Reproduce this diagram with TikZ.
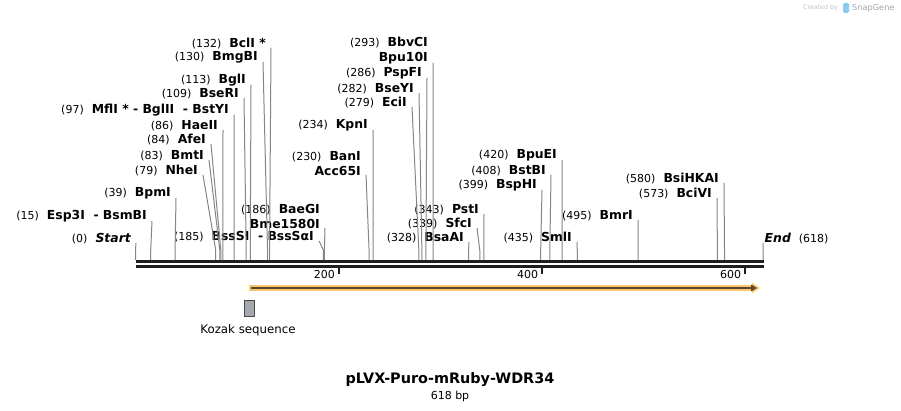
\documentclass[tikz,border=0pt]{standalone}
\usepackage{fontspec}
\setmainfont{DejaVu Sans}
\usetikzlibrary{arrows.meta}

\definecolor{cutgray}{HTML}{858585}
\definecolor{axisblack}{HTML}{1E1E1E}
\definecolor{featorange}{HTML}{F9C770}
\definecolor{featdark}{HTML}{56472E}
\definecolor{kozakgray}{HTML}{A4A9B0}
\definecolor{kozakedge}{HTML}{4A4A4A}
\definecolor{logogray}{HTML}{BDC1C6}
\definecolor{logoblue}{HTML}{8CCBF0}

\newcommand{\ename}[1]{{\fontsize{12.4}{15}\selectfont\bfseries #1}}
\newcommand{\enz}[2]{(#1)\hspace{8pt}\ename{#2}}

\tikzstyle{enzyme} = [anchor=south east,
inner xsep=5pt,
inner ysep=-1.2pt,
align=right,
font=\fontsize{11}{15}\selectfont]
\tikzstyle{cut} = [draw=cutgray, line width=1pt]
\tikzstyle{ticklbl} = [anchor=east,
inner sep=1pt,
font=\fontsize{11}{13}\selectfont]

\begin{document}
\begin{tikzpicture}[x=1pt, y=-1pt]
\useasboundingbox (0,0) rectangle (901,411);

\foreach \p in {0,15,39,79,83,84,86,97,109,113,130,132,185,186,230,234,279,282,286,293,328,339,343,399,408,420,435,495,573,580,618}
  \coordinate (s\p) at ({135.5+1.0155*\p},250);

% sequence line
\draw [axisblack, line width=3.5pt] (135.5,261.7) -- (763.5,261.7);
\draw [axisblack, line width=2.7pt] (135.5,266.4) -- (763.5,266.4);
\foreach \t in {200,400,600} {
  \draw [axisblack, line width=1.8pt] ({135.5+1.0155*\t},267.5) -- ++(0,6.5);
  \node (t\t) [ticklbl] at ({135.5+1.0155*\t-2.5},274) {\t};
}

\node (start) [enzyme] at (136,243) {\enz{0}{\itshape Start}};
\node (esp) [enzyme] at (152,221) {\enz{15}{Esp3I\ \ - BsmBI}};
\node (bpm) [enzyme] at (176,198) {\enz{39}{BpmI}};
\node (nhe) [enzyme] at (203,175) {\enz{79}{NheI}};
\node (bmt) [enzyme] at (209,160) {\enz{83}{BmtI}};
\node (afe) [enzyme] at (211,144) {\enz{84}{AfeI}};
\node (hae) [enzyme] at (223,130) {\enz{86}{HaeII}};
\node (mfl) [enzyme] at (234,115) {\enz{97}{MflI *\ - BglII\ \ - BstYI}};
\node (bser) [enzyme] at (244,98) {\enz{109}{BseRI}};
\node (bgl) [enzyme] at (251,85) {\enz{113}{BglI}};
\node (bmg) [enzyme] at (263,62) {\enz{130}{BmgBI}};
\node (bcl) [enzyme] at (271,48) {\enz{132}{BclI *}};
\node (bss) [enzyme] at (319,241) {\enz{185}{BssSI\ \ - BssSαI}};
\node (bae) [enzyme] at (325,228) {\enz{186}{BaeGI}\\\ename{Bme1580I}};
\node (ban) [enzyme] at (366,175) {\enz{230}{BanI}\\\ename{Acc65I}};
\node (kpn) [enzyme] at (373,130) {\enz{234}{KpnI}};
\node (eci) [enzyme] at (412,107) {\enz{279}{EciI}};
\node (bsey) [enzyme] at (419,93) {\enz{282}{BseYI}};
\node (psp) [enzyme] at (427,78) {\enz{286}{PspFI}};
\node (bbv) [enzyme] at (433,63) {\enz{293}{BbvCI}\\\ename{Bpu10I}};
\node (bsaa) [enzyme] at (469,242) {\enz{328}{BsaAI}};
\node (sfc) [enzyme] at (477,228) {\enz{339}{SfcI}};
\node (pst) [enzyme] at (484,214) {\enz{343}{PstI}};
\node (bsph) [enzyme] at (542,190) {\enz{399}{BspHI}};
\node (bstb) [enzyme] at (551,175) {\enz{408}{BstBI}};
\node (bpue) [enzyme] at (562,160) {\enz{420}{BpuEI}};
\node (sml) [enzyme] at (577,242) {\enz{435}{SmlI}};
\node (bmr) [enzyme] at (638,220) {\enz{495}{BmrI}};
\node (bciv) [enzyme] at (717,198) {\enz{573}{BciVI}};
\node (bsih) [enzyme] at (724,183) {\enz{580}{BsiHKAI}};
\node (fin) [enzyme, anchor=south west, inner xsep=1.5pt] at (763,243) {\ename{\itshape End}\hspace{8pt}(618)};

\draw [cut] (start.south east) -- (s0) -- ++(0,10);
\draw [cut] (esp.south east) -- (s15) -- ++(0,10);
\draw [cut] (bpm.south east) -- (s39) -- ++(0,10);
\draw [cut] (nhe.south east) -- (s79) -- ++(0,10);
\draw [cut] (bmt.south east) -- (s83) -- ++(0,10);
\draw [cut] (afe.south east) -- (s84) -- ++(0,10);
\draw [cut] (hae.south east) -- (s86) -- ++(0,10);
\draw [cut] (mfl.south east) -- (s97) -- ++(0,10);
\draw [cut] (bser.south east) -- (s109) -- ++(0,10);
\draw [cut] (bgl.south east) -- (s113) -- ++(0,10);
\draw [cut] (bmg.south east) -- (s130) -- ++(0,10);
\draw [cut] (bcl.south east) -- (s132) -- ++(0,10);
\draw [cut] (bss.south east) -- (s185) -- ++(0,10);
\draw [cut] (bae.south east) -- (s186) -- ++(0,10);
\draw [cut] (ban.south east) -- (s230) -- ++(0,10);
\draw [cut] (kpn.south east) -- (s234) -- ++(0,10);
\draw [cut] (eci.south east) -- (s279) -- ++(0,10);
\draw [cut] (bsey.south east) -- (s282) -- ++(0,10);
\draw [cut] (psp.south east) -- (s286) -- ++(0,10);
\draw [cut] (bbv.south east) -- (s293) -- ++(0,10);
\draw [cut] (bsaa.south east) -- (s328) -- ++(0,10);
\draw [cut] (sfc.south east) -- (s339) -- ++(0,10);
\draw [cut] (pst.south east) -- (s343) -- ++(0,10);
\draw [cut] (bsph.south east) -- (s399) -- ++(0,10);
\draw [cut] (bstb.south east) -- (s408) -- ++(0,10);
\draw [cut] (bpue.south east) -- (s420) -- ++(0,10);
\draw [cut] (sml.south east) -- (s435) -- ++(0,10);
\draw [cut] (bmr.south east) -- (s495) -- ++(0,10);
\draw [cut] (bciv.south east) -- (s573) -- ++(0,10);
\draw [cut] (bsih.south east) -- (s580) -- ++(0,10);
\draw [cut] (fin.south west) -- (s618) -- ++(0,10);

% feature and Kozak box
\coordinate (fa) at (249,288);
\coordinate (fb) at (760,288);
\draw [featorange, line width=6pt, -{Triangle[length=8pt,width=10pt]}] (fa) -- (fb);
\draw [featdark, line width=2pt, -{Triangle[length=6pt,width=6.5pt]}] ([xshift=2pt]fa) -- ([xshift=-3pt]fb);
\node (kozak) [draw=kozakedge, fill=kozakgray, line width=1pt, inner sep=0pt,
  minimum width=10pt, minimum height=16pt] at (249.3,308.6) {};
\node (kozaklbl) [font=\fontsize{11.8}{14}\selectfont] at (248,330) {Kozak sequence};

\node (title) [font=\fontsize{14.4}{16}\selectfont\bfseries] at (450,380) {pLVX-Puro-mRuby-WDR34};
\node (bp) [font=\fontsize{11}{13}\selectfont] at (450,396) {618 bp};

\node (made) [anchor=east, inner sep=0pt, text=logogray, font=\fontsize{6.3}{8}\selectfont] at (838,8) {Created by};
\fill [logoblue, rounded corners=1.5pt] (843,3) rectangle (849,13);
\node (snap) [anchor=west, inner sep=0pt, text=logogray!85!black, font=\fontsize{8.2}{10}\selectfont] at (852,8) {SnapGene};
\end{tikzpicture}
\end{document}
